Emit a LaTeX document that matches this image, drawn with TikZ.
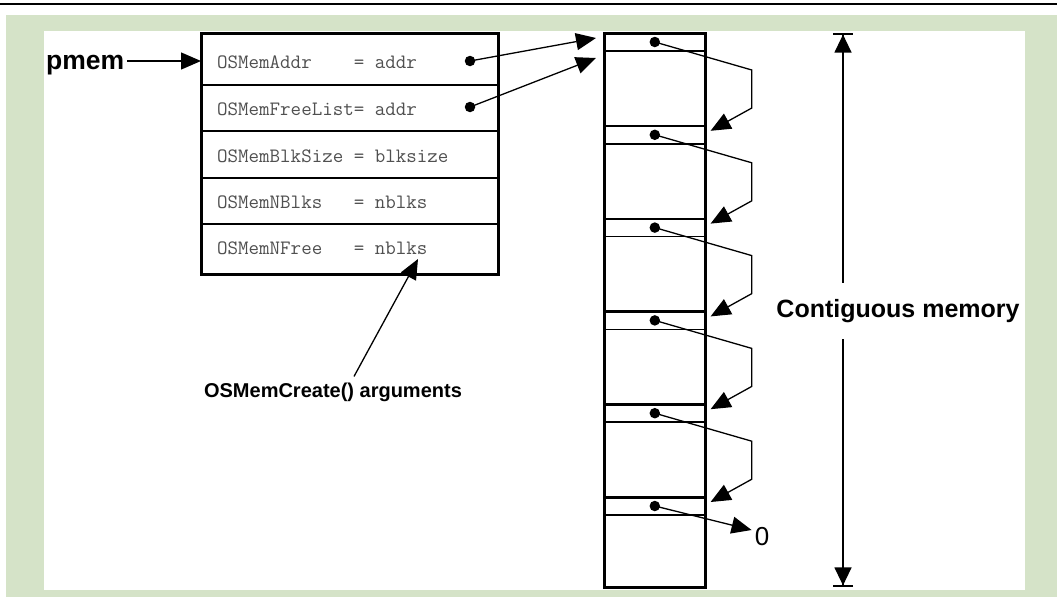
\documentclass[tikz,border=0pt]{standalone}
\usepackage{fontspec}
\setmainfont{Liberation Sans}
\usetikzlibrary{arrows.meta}
\definecolor{bggreen}{RGB}{213,227,200}
\definecolor{monogray}{RGB}{80,80,80}
\begin{document}
\begin{tikzpicture}[x=1pt,y=-1pt,
  conn/.style={line width=1.3pt,-{Triangle[length=20pt,width=17pt]}},
  dimarrow/.style={line width=1.3pt,-{Triangle[length=18pt,width=17pt]Bar[width=20pt,line width=1.6pt]}},
  dot/.style={circle,fill=black,inner sep=0pt,minimum size=10.5pt},
  rowbox/.style={draw,line width=1.5pt,inner sep=0pt,minimum width=296pt,anchor=north west},
  monotext/.style={anchor=base west,inner sep=0pt,text=monogray,font=\fontsize{20.4}{24}\ttfamily},
  block/.style={draw,line width=2.6pt,inner sep=0pt,minimum width=101pt,anchor=north west},
  header/.style={line width=1.5pt},
  biglabel/.style={font=\fontsize{25}{30}\selectfont\bfseries},
  midlabel/.style={font=\fontsize{20}{24}\selectfont\bfseries}
]
\useasboundingbox (0,0) rectangle (1057,597);
% background
\fill[bggreen] (6,15) rectangle (1057,597);
\fill[white] (44,31) rectangle (1025,590);
\draw[line width=2pt] (0,4) -- (1057,4);

% structure rows
\node[rowbox,minimum height=51pt] (r1) at (201,33) {};
\node[rowbox,minimum height=46pt] (r2) at (201,84) {};
\node[rowbox,minimum height=47pt] (r3) at (201,130) {};
\node[rowbox,minimum height=46pt] (r4) at (201,177) {};
\node[rowbox,minimum height=50pt] (r5) at (201,223) {};
\draw[line width=3pt] (r1.north west) rectangle (r5.south east);

\node[monotext] (t1) at (217,68) {OSMemAddr~~~~=~addr};
\node[monotext] (t2) at (217,115) {OSMemFreeList=~addr};
\node[monotext] (t3) at (217,162) {OSMemBlkSize~=~blksize};
\node[monotext] (t4) at (217,208) {OSMemNBlks~~~=~nblks};
\node[monotext] (t5) at (217,254) {OSMemNFree~~~=~nblks};

\node[dot] (d1) at (470,61) {};
\node[dot] (d2) at (470,107) {};

% pmem
\node[font=\fontsize{26.5}{30}\selectfont\bfseries,anchor=base west,inner sep=3pt] (pmem) at (43,69) {pmem};
\draw[conn] (pmem.east |- 0,61) -- (r1.west |- 0,61);

% memory column
\foreach \i in {0,...,4}{
  \node[block,minimum height=92.8pt] (b\i) at (603,32+92.8*\i) {};
}
\node[block,minimum height=90pt] (b5) at (603,496) {};
\foreach \i in {0,...,5}{
  \draw[header] ([yshift=-19pt]b\i.north west) -- ([yshift=-19pt]b\i.north east);
  \node[dot] (p\i) at ([yshift=-10pt]b\i.north) {};
}
\foreach \i/\j in {0/1,1/2,2/3,3/4,4/5}{
  \draw[conn] (p\i.center) -- ++(97,28) -- ++(0,38) -- ([xshift=4pt,yshift=-6pt]b\j.north east);
}
\node[inner sep=0pt,font=\fontsize{26}{30}\selectfont] (zero) at (762,537) {0};
\draw[conn] (p5.center) -- ([xshift=-3pt,yshift=7pt]zero.west);

% arrows from structure into memory
\draw[conn] (d1.center) -- ([xshift=-7pt,yshift=-6pt]b0.north west);
\draw[conn] (d2.center) -- ([xshift=-7pt,yshift=-26pt]b0.north west);

% dimension
\coordinate (dimT) at (843,33);
\coordinate (dimB) at (843,587);
\node[biglabel,minimum height=56pt,inner sep=0pt] (cm) at (898,311) {Contiguous memory};
\draw[dimarrow] (cm.north -| dimT) -- (dimT);
\draw[dimarrow] (cm.south -| dimB) -- (dimB);

% arguments label
\node[midlabel,inner sep=0pt] (args) at (333,392) {OSMemCreate() arguments};
\coordinate (argtip) at (418,259);
\draw[conn] ([xshift=21pt,yshift=6pt]args.north) -- (argtip);
\end{tikzpicture}
\end{document}
